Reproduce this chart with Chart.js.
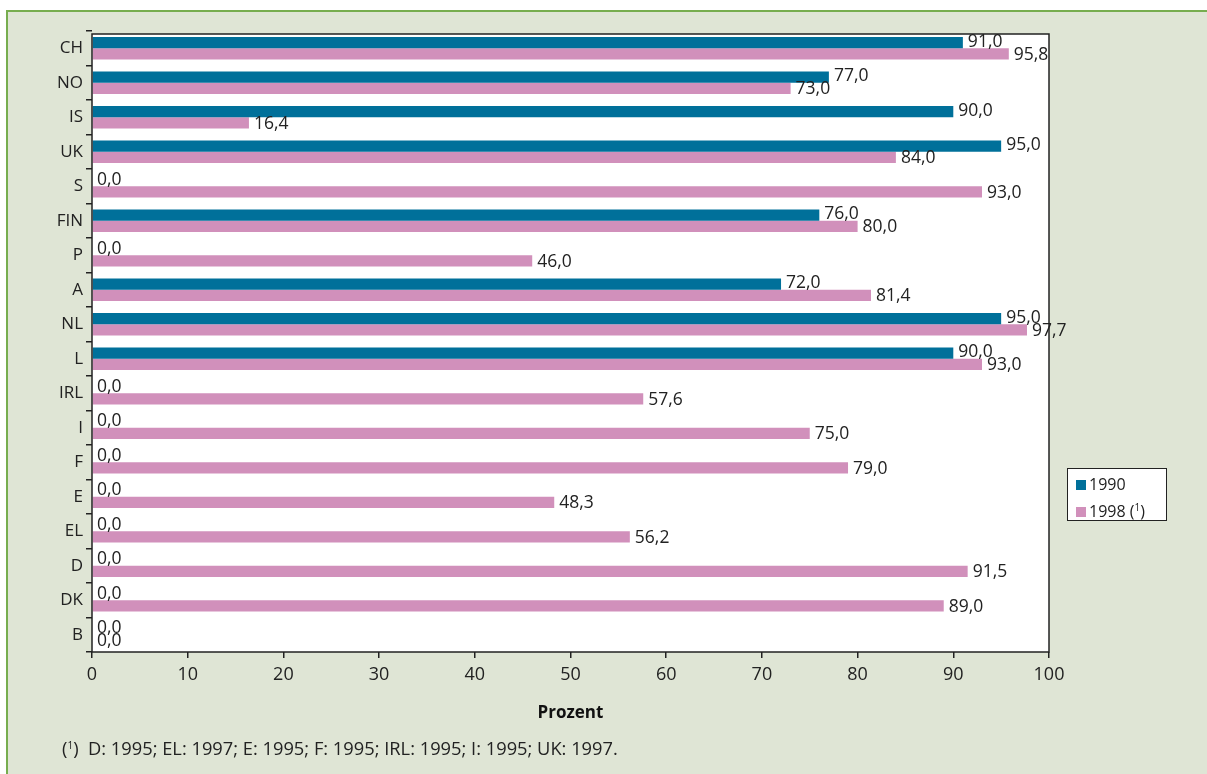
<!DOCTYPE html>
<html>
<head>
<meta charset="utf-8">
<script src="https://cdn.jsdelivr.net/npm/chart.js@4"></script>
<style>
  html, body { margin: 0; padding: 0; background: #fff; }
  #frame {
    position: absolute; left: 6px; top: 10px; width: 1210px; height: 780px;
    background: #dfe5d5; border-left: 2px solid #77ad4f; border-top: 2px solid #77ad4f;
  }
  #wrap { position: absolute; left: 0; top: 0; width: 1207px; height: 774px; }
  #legend {
    position: absolute; left: 1067px; top: 468px; width: 98px; height: 51px;
    background: #fff; border: 1px solid #222; font: 16px "Open Sans", sans-serif; color: #222;
  }
  #legend div { position: absolute; left: 8px; white-space: nowrap; line-height: 20px; }
  #legend span.sw { display: inline-block; width: 10px; height: 10px; margin-right: 3px; }
  #note { position: absolute; left: 62px; top: 735px; font: 18.3px "Open Sans", sans-serif; color: #222; white-space: nowrap; }
  sup { font-size: 10px; vertical-align: 6px; }
</style>
</head>
<body>
<div id="frame"></div>
<div id="wrap"><canvas id="c"></canvas></div>
<div id="legend">
  <div style="top:5px"><span class="sw" style="background:#00709a"></span>1990</div>
  <div style="top:28px"><span class="sw" style="background:#d190bb"></span>1998 (<sup>1</sup>)</div>
</div>
<div id="note">(<sup>1</sup>)&nbsp; D: 1995; EL: 1997; E: 1995; F: 1995; IRL: 1995; I: 1995; UK: 1997.</div>
<script>
// countries, top to bottom
const countries = ["CH", "NO", "IS", "UK", "S", "FIN", "P", "A", "NL", "L", "IRL", "I", "F", "E", "EL", "D", "DK", "B"];
const values1990 = [91.0, 77.0, 90.0, 95.0, 0.0, 76.0, 0.0, 72.0, 95.0, 90.0, 0.0, 0.0, 0.0, 0.0, 0.0, 0.0, 0.0, 0.0];
const values1998 = [95.8, 73.0, 16.4, 84.0, 93.0, 80.0, 46.0, 81.4, 97.7, 93.0, 57.6, 75.0, 79.0, 48.3, 56.2, 91.5, 89.0, 0.0];
const xTicks = [0, 10, 20, 30, 40, 50, 60, 70, 80, 90, 100];

const fontFamily = '"Open Sans", sans-serif';
const frameTop = 34;

// white plot background + black frame (frame top sits a little below the first band)
const plotBox = {
  id: "plotBox",
  beforeDraw(chart) {
    const { ctx, chartArea: a } = chart;
    ctx.save();
    ctx.fillStyle = "#fff";
    ctx.fillRect(a.left, frameTop, a.right - a.left, a.bottom - frameTop);
    ctx.restore();
  },
  afterDraw(chart) {
    const { ctx, chartArea: a } = chart;
    ctx.save();
    ctx.strokeStyle = "#222";
    ctx.lineWidth = 1.5;
    ctx.strokeRect(a.left, frameTop, a.right - a.left, a.bottom - frameTop);
    ctx.restore();
  }
};

// value labels at the end of each bar, German decimal comma
const barLabels = {
  id: "barLabels",
  afterDatasetsDraw(chart) {
    const ctx = chart.ctx;
    ctx.save();
    ctx.font = "17.5px " + fontFamily;
    ctx.fillStyle = "#222";
    ctx.textBaseline = "middle";
    ctx.textAlign = "left";
    chart.data.datasets.forEach((ds, i) => {
      chart.getDatasetMeta(i).data.forEach((bar, j) => {
        const txt = ds.data[j].toFixed(1).replace(".", ",");
        ctx.fillText(txt, bar.x + 5, bar.y + (i === 0 ? -1 : 1));
      });
    });
    ctx.restore();
  }
};

new Chart(document.getElementById("c"), {
  type: "bar",
  data: {
    labels: countries,
    datasets: [
      { label: "1990", data: values1990, backgroundColor: "#00709a" },
      { label: "1998 (1)", data: values1998, backgroundColor: "#d190bb" }
    ]
  },
  options: {
    indexAxis: "y",
    responsive: true,
    maintainAspectRatio: false,
    animation: false,
    categoryPercentage: 0.65,
    barPercentage: 1.0,
    layout: { padding: { left: 40, right: 158, top: 31, bottom: 51 } },
    plugins: { legend: { display: false }, tooltip: { enabled: false } },
    scales: {
      x: {
        min: 0, max: 100,
        afterBuildTicks: (s) => { s.ticks = xTicks.map(v => ({ value: v })); },
        afterFit: (s) => { s.height = 71; },
        grid: { drawOnChartArea: false, drawTicks: true, tickLength: 6, tickColor: "#222", lineWidth: 1.5 },
        border: { display: false },
        ticks: { color: "#222", font: { size: 18, family: fontFamily }, padding: 6 },
        title: { display: true, text: "Prozent", color: "#111", font: { size: 17, weight: "bold", family: fontFamily }, padding: { top: 8, bottom: 0 } }
      },
      y: {
        afterFit: (s) => { s.width = 52; },
        grid: { drawOnChartArea: false, drawTicks: true, tickLength: 6, tickColor: "#222", lineWidth: 1.5, offset: true },
        border: { display: false },
        ticks: { color: "#222", font: { size: 17, family: fontFamily }, padding: 3 }
      }
    }
  },
  plugins: [plotBox, barLabels]
});
</script>
</body>
</html>
